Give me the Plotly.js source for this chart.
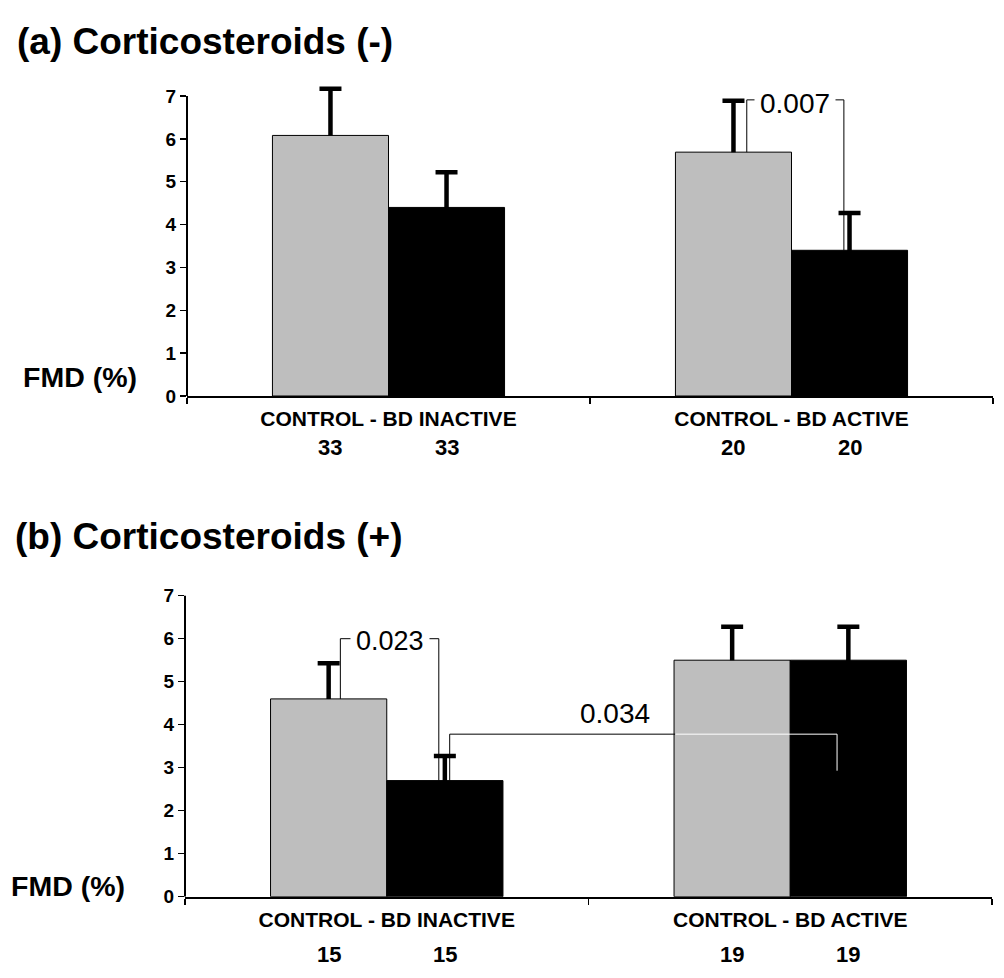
<!DOCTYPE html>
<html>
<head>
<meta charset="utf-8">
<script src="https://cdn.plot.ly/plotly-3.0.1.min.js"></script>
<style>
  html, body { margin: 0; padding: 0; background: #ffffff; }
  #chart { width: 1004px; height: 978px; }
</style>
</head>
<body>
<div id="chart"></div>
<script>
// ---------------- data ----------------
const categories = ['CONTROL - BD INACTIVE', 'CONTROL - BD ACTIVE'];

// (a) Corticosteroids (-)
const controlA    = [6.08, 5.69];
const bdA         = [4.40, 3.40];
const controlErrA = [1.09, 1.20];
const bdErrA      = [0.82, 0.87];
const nControlA   = [33, 20];
const nBdA        = [33, 20];

// (b) Corticosteroids (+)
const controlB    = [4.60, 5.50];
const bdB         = [2.70, 5.50];
const controlErrB = [0.83, 0.78];
const bdErrB      = [0.57, 0.78];
const nControlB   = [15, 19];
const nBdB        = [15, 19];

// significance brackets
const pLabels  = ['0.007', '0.023', '0.034'];
const pLevels  = [6.91, 6.00, 3.78];   // height of bracket line
const pLabelY  = [6.83, 5.94, 4.27];   // height of label
const pDrop034 = 2.93;                 // end of the right leg of the 0.034 bracket

const yTicks = [0, 1, 2, 3, 4, 5, 6, 7];
const yAxisTop = 7;

// ---------------- style ----------------
const FONT = 'Arial, "Liberation Sans", Helvetica, sans-serif';
const GRAY = '#bebebe';
const W = 1004, H = 978;
const BARGAP = 0.424;
const OFF = (1 - BARGAP) / 4;   // offset of each bar centre from its category centre
const YMAX = 7.5;               // headroom so the tallest error bar is not clipped

// visible bars
function barTrace(y, color, xa, ya, group, name) {
  return {
    type: 'bar', x: categories, y: y, name: name, offsetgroup: group,
    xaxis: xa, yaxis: ya, showlegend: false, hoverinfo: 'skip',
    marker: { color: color, line: { color: '#000', width: 1 } }
  };
}
// transparent bars drawn underneath that carry the error bars
// (the lower half of each error bar is hidden by the visible bar)
function errTrace(y, err, xa, ya, group) {
  return {
    type: 'bar', x: categories, y: y, offsetgroup: group,
    xaxis: xa, yaxis: ya, showlegend: false, hoverinfo: 'skip', cliponaxis: false,
    marker: { color: 'rgba(0,0,0,0)', line: { width: 0 } },
    error_y: { type: 'data', symmetric: true, array: err,
               thickness: 4.5, width: 11, color: '#000' }
  };
}

const data = [
  errTrace(controlA, controlErrA, 'x', 'y', 'ctl'),
  errTrace(bdA, bdErrA, 'x', 'y', 'bd'),
  errTrace(controlB, controlErrB, 'x2', 'y2', 'ctl'),
  errTrace(bdB, bdErrB, 'x2', 'y2', 'bd'),
  barTrace(controlA, GRAY, 'x', 'y', 'ctl', 'CONTROL'),
  barTrace(bdA, '#000', 'x', 'y', 'bd', 'BD'),
  barTrace(controlB, GRAY, 'x2', 'y2', 'ctl', 'CONTROL'),
  barTrace(bdB, '#000', 'x2', 'y2', 'bd', 'BD')
];

function xAxis(domain, anchor) {
  return {
    domain: domain, anchor: anchor, type: 'category', range: [-0.5, 1.5],
    showline: true, linecolor: '#000', linewidth: 2,
    ticks: 'outside', tickson: 'boundaries', ticklen: 6, tickwidth: 1.5, tickcolor: '#000',
    ticklabelstandoff: 3,
    tickfont: { family: FONT, size: 21, color: '#000', weight: 'bold' },
    showgrid: false, zeroline: false, fixedrange: true, automargin: false
  };
}
function yAxis(domain, anchor) {
  return {
    domain: domain, anchor: anchor, range: [0, YMAX],
    tickmode: 'array', tickvals: yTicks, ticktext: yTicks.map(String),
    showline: false,
    ticks: 'outside', ticklen: 6, tickwidth: 1.5, tickcolor: '#000',
    tickfont: { family: FONT, size: 19, color: '#000', weight: 'bold' },
    showgrid: false, zeroline: false, fixedrange: true, automargin: false
  };
}

const annotations = [];
function txt(text, x, y, xref, yref, size, weight, xanchor, extra) {
  annotations.push(Object.assign({
    text: text, x: x, y: y, xref: xref, yref: yref, showarrow: false,
    xanchor: xanchor || 'center', yanchor: 'middle',
    font: { family: FONT, size: size, color: '#000', weight: weight }
  }, extra || {}));
}

// titles
txt('(a) Corticosteroids (-)', 15 / W, 1 - 41 / H, 'paper', 'paper', 37, 'bold', 'left');
txt('(b) Corticosteroids (+)', 13 / W, 1 - 536 / H, 'paper', 'paper', 37, 'bold', 'left');
// y labels
txt('FMD (%)', 21 / W, 1 - 377 / H, 'paper', 'paper', 28.5, 'bold', 'left');
txt('FMD (%)', 9 / W, 1 - 886 / H, 'paper', 'paper', 28.5, 'bold', 'left');
// group sizes
categories.forEach((c, i) => {
  txt(String(nControlA[i]), i - OFF, 1 - 447.5 / H, 'x', 'paper', 22, 'bold');
  txt(String(nBdA[i]),      i + OFF, 1 - 447.5 / H, 'x', 'paper', 22, 'bold');
  txt(String(nControlB[i]), i - OFF, 1 - 954 / H, 'x2', 'paper', 22, 'bold');
  txt(String(nBdB[i]),      i + OFF, 1 - 954 / H, 'x2', 'paper', 22, 'bold');
});

const shapes = [];
function seg(xref, yref, x0, y0, x1, y1, color, width) {
  shapes.push({ type: 'line', xref: xref, yref: yref, x0: x0, y0: y0, x1: x1, y1: y1,
                layer: 'above', line: { color: color || '#000', width: width || 1 } });
}
// y axis lines (only up to 7, the extra headroom stays blank)
seg('x domain', 'y', 0, 0, 0, yAxisTop, '#000', 2);
seg('x2 domain', 'y2', 0, 0, 0, yAxisTop, '#000', 2);

// (a) 0.007 : control vs BD active
{
  const xl = 1 - OFF + 0.033, xr = 1 + OFF - 0.014;
  seg('x', 'y', xl, controlA[1], xl, pLevels[0]);
  seg('x', 'y', xl, pLevels[0], xr, pLevels[0]);
  seg('x', 'y', xr, pLevels[0], xr, bdA[1]);
  txt(pLabels[0], (xl + xr) / 2, pLabelY[0], 'x', 'y', 28, 'normal', 'center',
      { bgcolor: '#fff', borderpad: 5 });
}
// (b) 0.023 : control vs BD inactive
{
  const xl = -OFF + 0.029, xr = OFF - 0.015;
  seg('x2', 'y2', xl, controlB[0], xl, pLevels[1]);
  seg('x2', 'y2', xl, pLevels[1], xr, pLevels[1]);
  seg('x2', 'y2', xr, pLevels[1], xr, bdB[0]);
  txt(pLabels[1], (xl + xr) / 2, pLabelY[1], 'x2', 'y2', 27, 'normal', 'center',
      { bgcolor: '#fff', borderpad: 5 });
}
// (b) 0.034 : BD inactive vs BD active
{
  const xl = OFF + 0.012, xEdge = 1 - 2 * OFF + 0.003, xr = 1 + OFF - 0.028;
  seg('x2', 'y2', xl, bdB[0], xl, pLevels[2]);
  seg('x2', 'y2', xl, pLevels[2], xEdge, pLevels[2]);
  seg('x2', 'y2', xEdge, pLevels[2], xr, pLevels[2], '#fff');
  seg('x2', 'y2', xr, pLevels[2], xr, pDrop034, '#fff');
  txt(pLabels[2], 0.566, pLabelY[2], 'x2', 'y2', 28, 'normal', 'center');
}

// pixel geometry of the two plot areas (value 0 and value 7 rows)
const aBottom = 396, aTop7 = 96;
const bBottom = 896.7, bTop7 = 595.7;
const aTop = aBottom - (aBottom - aTop7) * YMAX / 7;
const bTop = bBottom - (bBottom - bTop7) * YMAX / 7;

const layout = {
  width: W, height: H,
  margin: { l: 0, r: 0, t: 0, b: 0, autoexpand: false },
  paper_bgcolor: '#fff', plot_bgcolor: 'rgba(0,0,0,0)',
  barmode: 'group', bargap: BARGAP, bargroupgap: 0,
  showlegend: false,
  xaxis:  xAxis([187 / W, 993 / W], 'y'),
  yaxis:  yAxis([1 - aBottom / H, 1 - aTop / H], 'x'),
  xaxis2: xAxis([185 / W, 992 / W], 'y2'),
  yaxis2: yAxis([1 - bBottom / H, 1 - bTop / H], 'x2'),
  annotations: annotations,
  shapes: shapes
};

Plotly.newPlot('chart', data, layout, { displayModeBar: false, staticPlot: true });
</script>
</body>
</html>
